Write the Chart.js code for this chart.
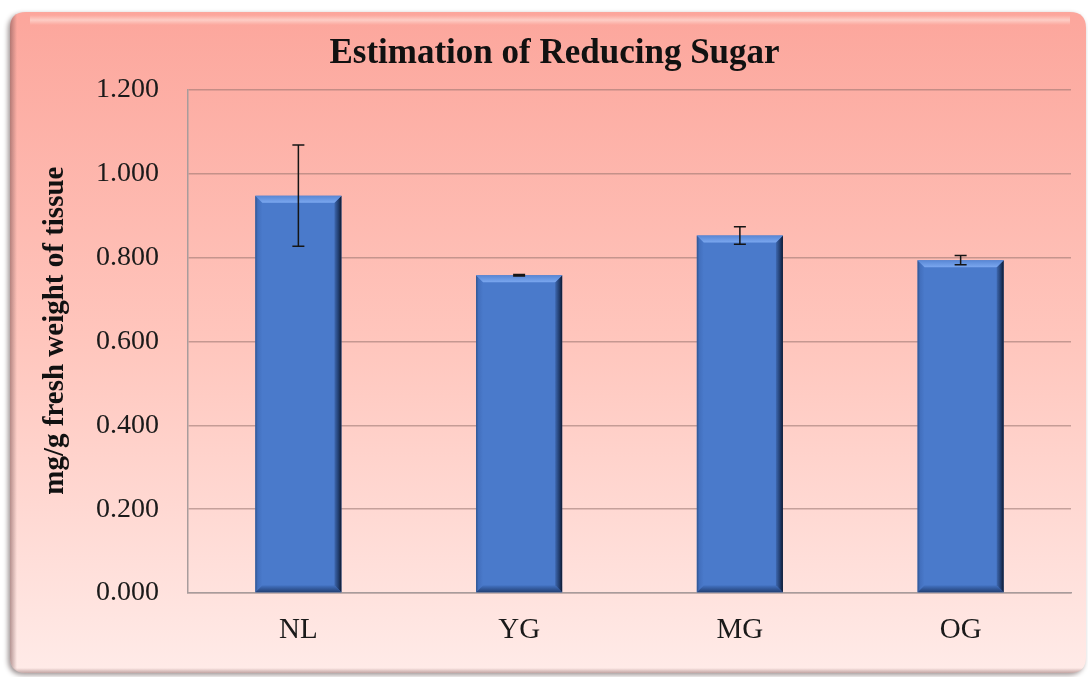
<!DOCTYPE html>
<html>
<head>
<meta charset="utf-8">
<script src="https://cdn.jsdelivr.net/npm/chart.js@4.4.1/dist/chart.umd.min.js"></script>
<style>
  html, body { margin: 0; padding: 0; background: #ffffff; }
  #wrap { width: 1088px; height: 677px; position: relative; }
</style>
</head>
<body>
<div id="wrap"><canvas id="c" width="1088" height="677"></canvas></div>
<script>
const chartTitle = 'Estimation of Reducing Sugar';
const yAxisTitle = 'mg/g fresh weight of tissue';
const categories = ['NL', 'YG', 'MG', 'OG'];
const meanValues = [0.948, 0.758, 0.853, 0.794];
const errorValues = [0.121, 0.002, 0.021, 0.011];
const yMin = 0;
const yMax = 1.2;
const yStep = 0.2;

const serif = '"Liberation Serif", "Times New Roman", serif';

const cardPlugin = {
  id: 'card',
  beforeDraw(chart) {
    const ctx = chart.ctx;
    const W = chart.width, H = chart.height;
    ctx.save();
    ctx.fillStyle = '#ffffff';
    ctx.fillRect(0, 0, W, H);
    const x0 = 10, y0 = 12, x1 = 1086, y1 = 673, r = 16;
    const path = () => {
      ctx.beginPath();
      ctx.moveTo(x0 + r, y0);
      ctx.lineTo(x1 - r, y0);
      ctx.quadraticCurveTo(x1, y0, x1, y0 + r);
      ctx.lineTo(x1, y1 - r);
      ctx.quadraticCurveTo(x1, y1, x1 - r, y1);
      ctx.lineTo(x0 + r, y1);
      ctx.quadraticCurveTo(x0, y1, x0, y1 - r);
      ctx.lineTo(x0, y0 + r);
      ctx.quadraticCurveTo(x0, y0, x0 + r, y0);
      ctx.closePath();
    };
    ctx.shadowColor = 'rgba(60,40,40,0.5)';
    ctx.shadowBlur = 5;
    ctx.shadowOffsetX = -2;
    ctx.shadowOffsetY = 2;
    path();
    const g = ctx.createLinearGradient(0, y0, 0, y1);
    g.addColorStop(0, '#fca69c');
    g.addColorStop(0.5, '#ffc6bd');
    g.addColorStop(1, '#ffebe8');
    ctx.fillStyle = g;
    ctx.fill();
    ctx.shadowColor = 'transparent';
    ctx.save();
    path();
    ctx.clip();
    const gl = ctx.createLinearGradient(x0, 0, x0 + 7, 0);
    gl.addColorStop(0, 'rgba(120,80,80,0.55)');
    gl.addColorStop(1, 'rgba(120,80,80,0)');
    ctx.fillStyle = gl;
    ctx.fillRect(x0, y0, 7, y1 - y0);
    const gb = ctx.createLinearGradient(0, y1, 0, y1 - 5);
    gb.addColorStop(0, 'rgba(120,80,80,0.45)');
    gb.addColorStop(1, 'rgba(120,80,80,0)');
    ctx.fillStyle = gb;
    ctx.fillRect(x0, y1 - 5, x1 - x0, 5);
    const gh = ctx.createLinearGradient(0, y0 + 3, 0, y0 + 13);
    gh.addColorStop(0, 'rgba(255,236,230,0)');
    gh.addColorStop(0.5, 'rgba(255,236,230,0.55)');
    gh.addColorStop(1, 'rgba(255,236,230,0)');
    ctx.fillStyle = gh;
    ctx.fillRect(x0 + 20, y0 + 3, x1 - x0 - 36, 10);
    ctx.restore();
    ctx.restore();
  }
};

const bevelAndErrorPlugin = {
  id: 'bevelErr',
  afterDatasetsDraw(chart) {
    const ctx = chart.ctx;
    const meta = chart.getDatasetMeta(0);
    const yScale = chart.scales.y;
    ctx.save();
    meta.data.forEach((bar, i) => {
      const l = bar.x - bar.width / 2, r = bar.x + bar.width / 2;
      const t = bar.y, b = bar.base;
      const bv = 7;
      const gL = ctx.createLinearGradient(l, 0, l + bv, 0);
      gL.addColorStop(0, '#2f548f');
      gL.addColorStop(0.35, '#426fbd');
      gL.addColorStop(1, '#4a7acb');
      ctx.fillStyle = gL;
      ctx.beginPath();
      ctx.moveTo(l, t); ctx.lineTo(l + bv, t + bv); ctx.lineTo(l + bv, b - bv); ctx.lineTo(l, b);
      ctx.closePath(); ctx.fill();
      const gB = ctx.createLinearGradient(0, b - bv, 0, b);
      gB.addColorStop(0, '#4474c4');
      gB.addColorStop(1, '#233f74');
      ctx.fillStyle = gB;
      ctx.beginPath();
      ctx.moveTo(l, b); ctx.lineTo(l + bv, b - bv); ctx.lineTo(r - bv, b - bv); ctx.lineTo(r, b);
      ctx.closePath(); ctx.fill();
      const gr = ctx.createLinearGradient(r - bv, 0, r, 0);
      gr.addColorStop(0, '#3e68b0');
      gr.addColorStop(0.6, '#213c6c');
      gr.addColorStop(1, '#0f1a30');
      ctx.fillStyle = gr;
      ctx.beginPath();
      ctx.moveTo(r, t); ctx.lineTo(r - bv, t + bv); ctx.lineTo(r - bv, b - bv); ctx.lineTo(r, b);
      ctx.closePath(); ctx.fill();
      const gt = ctx.createLinearGradient(0, t, 0, t + bv);
      gt.addColorStop(0, '#5786d4');
      gt.addColorStop(1, '#7ba7ef');
      ctx.fillStyle = gt;
      ctx.beginPath();
      ctx.moveTo(l, t); ctx.lineTo(r, t); ctx.lineTo(r - bv, t + bv); ctx.lineTo(l + bv, t + bv);
      ctx.closePath(); ctx.fill();
      const v = meanValues[i], e = errorValues[i];
      const yTop = yScale.getPixelForValue(v + e);
      const yBot = yScale.getPixelForValue(v - e);
      ctx.strokeStyle = '#151515';
      ctx.lineWidth = 1.5;
      ctx.beginPath();
      ctx.moveTo(bar.x, yTop); ctx.lineTo(bar.x, yBot);
      ctx.moveTo(bar.x - 6, yTop); ctx.lineTo(bar.x + 6, yTop);
      ctx.moveTo(bar.x - 6, yBot); ctx.lineTo(bar.x + 6, yBot);
      ctx.stroke();
    });
    ctx.restore();
  }
};

new Chart(document.getElementById('c'), {
  type: 'bar',
  data: {
    labels: categories,
    datasets: [{
      data: meanValues,
      backgroundColor: '#4a7acb',
      borderWidth: 0,
      barPercentage: 0.39,
      categoryPercentage: 1.0
    }]
  },
  options: {
    responsive: false,
    animation: false,
    devicePixelRatio: 1,
    layout: { padding: { left: 38, right: 17, top: 0, bottom: 20 } },
    plugins: {
      legend: { display: false },
      tooltip: { enabled: false },
      title: {
        display: true,
        text: chartTitle,
        color: '#111111',
        font: { family: serif, size: 35, weight: 'bold', lineHeight: 1.2 },
        padding: { top: 33, bottom: 15 }
      }
    },
    scales: {
      x: {
        grid: { display: false, drawTicks: false },
        border: { display: true, color: '#a89c9c', width: 1.5 },
        ticks: {
          color: '#1a1a1a',
          padding: 20,
          font: { family: serif, size: 29 }
        },
        afterFit(scale) { scale.height = 64; }
      },
      y: {
        min: yMin,
        max: yMax,
        ticks: {
          stepSize: yStep,
          color: '#1a1a1a',
          padding: 29,
          font: { family: serif, size: 28 },
          callback: (v) => Number(v).toFixed(3)
        },
        grid: { color: 'rgba(150,115,110,0.55)', lineWidth: 1.5, drawTicks: false },
        border: { display: true, color: '#a89c9c', width: 1.5 },
        title: {
          display: true,
          text: '\u00A0\u00A0\u00A0' + yAxisTitle,
          color: '#111111',
          font: { family: serif, size: 29, weight: 'bold', lineHeight: 1.2 },
          padding: { top: 0, bottom: 0 }
        },
        afterFit(scale) { scale.width = 150; }
      }
    }
  },
  plugins: [cardPlugin, bevelAndErrorPlugin]
});
</script>
</body>
</html>
